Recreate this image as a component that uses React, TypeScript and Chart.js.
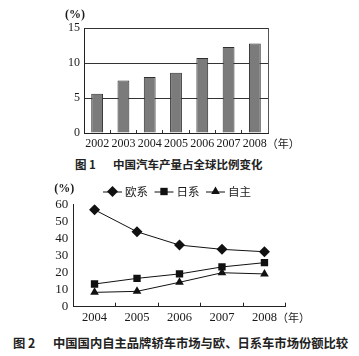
import React, { useEffect, useRef } from "react";
import { Chart, registerables } from "chart.js";

Chart.register(...registerables);

// ---- Data: figure 1 ----
const years1 = ["2002", "2003", "2004", "2005", "2006", "2007", "2008"];
const share1 = [5.6, 7.5, 8.0, 8.6, 10.7, 12.3, 12.8];
const yTicks1 = { min: 0, max: 15, step: 5 };

// ---- Data: figure 2 ----
const years2 = ["2004", "2005", "2006", "2007", "2008"];
const seriesNames = ["欧系", "日系", "自主"];
const euro = [56.8, 43.9, 36.1, 33.6, 32.2];
const japan = [13.3, 16.6, 19.2, 23.3, 25.8];
const domestic = [8.4, 9.0, 14.3, 19.9, 19.2];
const yTicks2 = { min: 0, max: 60, step: 10 };

const captions = {
  fig1Label: "图 1",
  fig1Title: "中国汽车产量占全球比例变化",
  fig2Label: "图 2",
  fig2Title: "中国国内自主品牌轿车市场与欧、日系车市场份额比较",
};
const unitY = "(%)";
const unitX = "（年）";

const SERIF = "'Liberation Serif', 'DejaVu Serif', serif";
const CJK = "'Noto Sans CJK SC', sans-serif";
const INK = "#1a1a1a";

const unitsPlugin = {
  id: "units",
  afterDraw(chart: any, _args: any, opts: any) {
    const { ctx, chartArea } = chart;
    const xs = chart.scales.x;
    ctx.save();
    ctx.fillStyle = INK;
    ctx.font = opts.unitFont;
    ctx.textAlign = "right";
    ctx.textBaseline = "middle";
    ctx.fillText(unitY, chartArea.left + opts.unitDx, chartArea.top + opts.unitDy);
    const last = xs.ticks.length - 1;
    const px = xs.getPixelForTick(last);
    ctx.font = opts.tickFont;
    const w = ctx.measureText(String(xs.getLabelForValue(last))).width;
    ctx.font = opts.cjkFont;
    ctx.textAlign = "left";
    ctx.fillText(unitX, px + w / 2, chartArea.bottom + opts.yearDy);
    ctx.restore();
  },
};

const frameRightPlugin = {
  id: "frameRight",
  afterDraw(chart: any, _args: any, opts: any) {
    if (!opts || !opts.enabled) return;
    const { ctx, chartArea } = chart;
    ctx.save();
    ctx.strokeStyle = opts.color;
    ctx.lineWidth = 1;
    ctx.beginPath();
    const x = Math.round(chartArea.right) + 0.5;
    ctx.moveTo(x, chartArea.top);
    ctx.lineTo(x, chartArea.bottom);
    ctx.stroke();
    ctx.restore();
  },
};

function drawMarker(ctx: CanvasRenderingContext2D, style: string, x: number, y: number, r: number) {
  ctx.beginPath();
  if (style === "rectRot") {
    ctx.moveTo(x, y - r);
    ctx.lineTo(x + r, y);
    ctx.lineTo(x, y + r);
    ctx.lineTo(x - r, y);
  } else if (style === "rect") {
    const s = r * Math.SQRT1_2;
    ctx.rect(x - s, y - s, 2 * s, 2 * s);
  } else {
    const h = r * 1.5;
    const sideHalf = (r * 3) / Math.sqrt(3) / 2;
    ctx.moveTo(x, y - r);
    ctx.lineTo(x + sideHalf, y + h - r);
    ctx.lineTo(x - sideHalf, y + h - r);
  }
  ctx.closePath();
  ctx.fill();
}

const lineLegendPlugin = {
  id: "lineLegend",
  afterDraw(chart: any, _args: any, opts: any) {
    if (!opts || !opts.enabled) return;
    const { ctx } = chart;
    ctx.save();
    chart.data.datasets.forEach((ds: any, i: number) => {
      const x0 = opts.x + i * opts.step;
      const y = opts.y;
      ctx.strokeStyle = ds.borderColor;
      ctx.fillStyle = ds.pointBackgroundColor;
      ctx.lineWidth = 1;
      ctx.beginPath();
      ctx.moveTo(x0, y + 0.5);
      ctx.lineTo(x0 + opts.lineLen, y + 0.5);
      ctx.stroke();
      drawMarker(ctx, ds.pointStyle, x0 + opts.lineLen / 2, y, ds.pointRadius);
      ctx.fillStyle = INK;
      ctx.font = opts.font;
      ctx.textAlign = "left";
      ctx.textBaseline = "middle";
      ctx.fillText(ds.label, x0 + opts.lineLen + opts.gap, y);
    });
    ctx.restore();
  },
};

function BarChart() {
  const ref = useRef<HTMLCanvasElement | null>(null);
  useEffect(() => {
    if (!ref.current) return;
    const chart = new Chart(ref.current, {
      type: "bar",
      data: {
        labels: years1,
        datasets: [
          {
            data: share1,
            backgroundColor: "#7b7b7b",
            borderColor: "#2e2e2e",
            borderWidth: 1,
            barPercentage: 0.45,
            categoryPercentage: 1,
          },
        ],
      },
      options: {
        responsive: false,
        animation: false,
        layout: { padding: { left: 0, right: 91, top: 28, bottom: 0 } },
        plugins: {
          legend: { display: false },
          tooltip: { enabled: false },
          units: {
            unitFont: `bold 12px ${SERIF}`,
            tickFont: `12px ${SERIF}`,
            cjkFont: `11px ${CJK}`,
            unitDx: 1,
            unitDy: -13,
            yearDy: 10.5,
          },
          frameRight: { enabled: true, color: "#555" },
        } as any,
        scales: {
          x: {
            offset: true,
            grid: {
              display: true,
              offset: true,
              drawOnChartArea: false,
              drawTicks: true,
              tickLength: -3,
              color: "#333",
            },
            border: { display: true, color: "#222", width: 1 },
            ticks: {
              color: INK,
              font: { family: SERIF, size: 12 },
              padding: 6.5,
              maxRotation: 0,
              autoSkip: false,
            },
            afterFit: (s: any) => {
              s.height = 22;
            },
          },
          y: {
            min: yTicks1.min,
            max: yTicks1.max,
            grid: { color: "#333", lineWidth: 1, drawTicks: false },
            border: { display: true, color: "#222", width: 1 },
            ticks: {
              stepSize: yTicks1.step,
              autoSkip: false,
              color: INK,
              font: { family: SERIF, size: 12 },
              padding: 4,
            },
            afterFit: (s: any) => {
              s.width = 84;
            },
          },
        },
      },
      plugins: [unitsPlugin, frameRightPlugin],
    });
    return () => chart.destroy();
  }, []);
  return (
    <canvas
      ref={ref}
      width={359}
      height={155}
      style={{ position: "absolute", left: 0, top: 0, width: 359, height: 155 }}
    />
  );
}

function LineChart() {
  const ref = useRef<HTMLCanvasElement | null>(null);
  useEffect(() => {
    if (!ref.current) return;
    const common = {
      borderColor: "#111",
      pointBackgroundColor: "#111",
      pointBorderColor: "#111",
      borderWidth: 1,
      pointBorderWidth: 0,
      fill: false,
      tension: 0,
    };
    const chart = new Chart(ref.current, {
      type: "line",
      data: {
        labels: years2,
        datasets: [
          { ...common, label: seriesNames[0], data: euro, pointStyle: "rectRot", pointRadius: 5.5 },
          { ...common, label: seriesNames[1], data: japan, pointStyle: "rect", pointRadius: 5.2 },
          { ...common, label: seriesNames[2], data: domestic, pointStyle: "triangle", pointRadius: 5 },
        ],
      },
      options: {
        responsive: false,
        animation: false,
        layout: { padding: { left: 0, right: 73.3, top: 32.3, bottom: 0 } },
        plugins: {
          legend: { display: false },
          tooltip: { enabled: false },
          units: {
            unitFont: `bold 12px ${SERIF}`,
            tickFont: `12.5px ${SERIF}`,
            cjkFont: `11px ${CJK}`,
            unitDx: 1,
            unitDy: -15,
            yearDy: 11.5,
          },
          lineLegend: {
            enabled: true,
            x: 103,
            y: 19.5,
            step: 51.5,
            lineLen: 19,
            gap: 3,
            font: `11.5px ${CJK}`,
          },
        } as any,
        scales: {
          x: {
            offset: true,
            grid: {
              display: true,
              offset: true,
              drawOnChartArea: false,
              drawTicks: true,
              tickLength: -4,
              color: "#222",
            },
            border: { display: true, color: "#222", width: 1 },
            ticks: {
              color: INK,
              font: { family: SERIF, size: 12.5 },
              padding: 8,
              maxRotation: 0,
              autoSkip: false,
            },
            afterFit: (s: any) => {
              s.height = 17.3;
            },
          },
          y: {
            min: yTicks2.min,
            max: yTicks2.max,
            grid: { display: false, drawTicks: false },
            border: { display: true, color: "#222", width: 1 },
            ticks: {
              stepSize: yTicks2.step,
              autoSkip: false,
              color: INK,
              font: { family: SERIF, size: 13 },
              padding: 5,
            },
            afterFit: (s: any) => {
              s.width = 73.3;
            },
          },
        },
      },
      plugins: [unitsPlugin, lineLegendPlugin],
    });
    return () => chart.destroy();
  }, []);
  return (
    <canvas
      ref={ref}
      width={359}
      height={152}
      style={{ position: "absolute", left: 0, top: 172, width: 359, height: 152 }}
    />
  );
}

const capBase: React.CSSProperties = {
  position: "absolute",
  fontFamily: CJK,
  fontWeight: 700,
  color: "#222",
  whiteSpace: "nowrap",
  lineHeight: "14px",
};

export default function App() {
  return (
    <div
      style={{
        position: "absolute",
        left: 0,
        top: 0,
        width: 359,
        height: 356,
        background: "#fff",
        overflow: "hidden",
      }}
    >
      <BarChart />
      <div style={{ ...capBase, left: 75, top: 157, fontSize: 11.5 }}>{captions.fig1Label}</div>
      <div style={{ ...capBase, left: 113, top: 157, fontSize: 11.5 }}>{captions.fig1Title}</div>
      <LineChart />
      <div style={{ ...capBase, left: 13, top: 336, fontSize: 12.3 }}>{captions.fig2Label}</div>
      <div style={{ ...capBase, left: 53, top: 336, fontSize: 12.3 }}>{captions.fig2Title}</div>
    </div>
  );
}
